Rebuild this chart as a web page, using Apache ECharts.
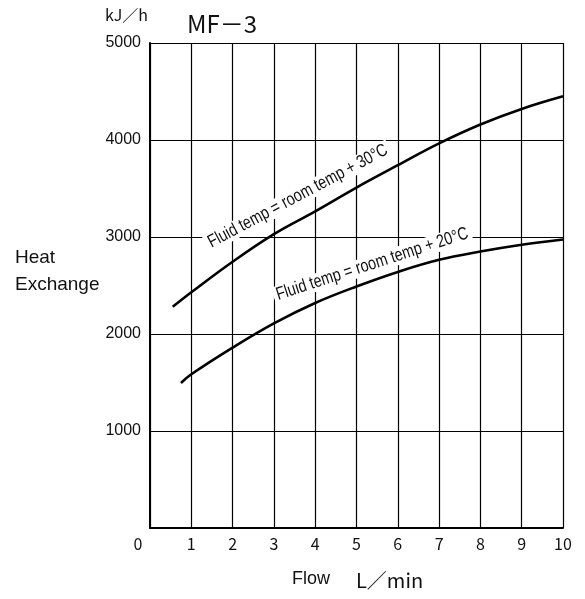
<!DOCTYPE html>
<html><head><meta charset="utf-8">
<script src="https://cdn.jsdelivr.net/npm/echarts@6/dist/echarts.min.js"></script>
<style>html,body{margin:0;padding:0;background:#fff}#c{width:585px;height:599px}</style>
</head><body><div id="c"></div>
<script>
// ---- data ----
const flow30 = [0.55, 1, 2, 3, 4, 5, 6, 7, 8, 9, 10];
const heat30 = [2280, 2430, 2745, 3030, 3265, 3510, 3740, 3965, 4160, 4320, 4450];
const flow20 = [0.75, 1, 2, 3, 4, 5, 6, 7, 8, 9, 10];
const heat20 = [1495, 1585, 1860, 2110, 2320, 2490, 2640, 2765, 2850, 2920, 2975];
const xTickLabels = ['0','1','2','3','4','5','6','7','8','9','10'];
const yTickLabels = ['', '1000', '2000', '3000', '4000', '5000'];
const curveNames = ['Fluid temp = room temp + 30°C', 'Fluid temp = room temp + 20°C'];
// label anchors in data coordinates [flow, heat, angleDeg]
const labelAnchors = [[3.58, 3420, 28], [5.38, 2720, 18]];

const chart = echarts.init(document.getElementById('c'), null, {renderer: 'canvas'});
const pair = (xs, ys) => xs.map((x, i) => [x, ys[i]]);
const arial = '"Liberation Sans", Arial, sans-serif';
const gothic = '"Noto Sans CJK JP", sans-serif';

const option = {
  animation: false,
  backgroundColor: '#fff',
  grid: {left: 150, right: 22, top: 43, bottom: 71, containLabel: false},
  xAxis: {
    type: 'value', min: 0, max: 10, interval: 1,
    axisLine: {show: true, onZero: false, lineStyle: {color: '#000', width: 2}},
    axisTick: {show: false},
    splitLine: {show: true, lineStyle: {color: '#000', width: 1.2}},
    axisLabel: {
      color: '#111', fontSize: 16, fontFamily: gothic, margin: 8,
      formatter: v => { const t = xTickLabels[Math.round(v)]; return v === 0 ? '{z|' + t + '}' : t; },
      rich: {z: {fontSize: 16, fontFamily: gothic, color: '#111', padding: [0, 24, 0, 0]}}
    }
  },
  yAxis: {
    type: 'value', min: 0, max: 5000, interval: 1000,
    axisLine: {show: true, lineStyle: {color: '#000', width: 2}},
    axisTick: {show: false},
    splitLine: {show: true, lineStyle: {color: '#000', width: 1.2}},
    axisLabel: {
      color: '#111', fontSize: 16, fontFamily: arial, margin: 9,
      formatter: v => yTickLabels[Math.round(v / 1000)]
    }
  },
  series: [
    {type: 'line', name: curveNames[0], data: pair(flow30, heat30), smooth: 0.4, showSymbol: false, z: 3,
     lineStyle: {color: '#000', width: 2.6}},
    {type: 'line', name: curveNames[1], data: pair(flow20, heat20), smooth: 0.4, showSymbol: false, z: 3,
     lineStyle: {color: '#000', width: 2.6}}
  ]
};
chart.setOption(option);

const graphics = [
  {type: 'text', x: 148, y: 15, style: {text: 'kJ／h', font: '16px ' + gothic, fill: '#111', align: 'right', verticalAlign: 'middle'}},
  {type: 'text', x: 187, y: 24, style: {text: 'MF－3', font: '24px ' + gothic, fill: '#111', align: 'left', verticalAlign: 'middle'}},
  {type: 'text', x: 15, y: 258, style: {text: 'Heat', font: '19px ' + arial, fill: '#111', align: 'left', verticalAlign: 'middle'}},
  {type: 'text', x: 15, y: 285, style: {text: 'Exchange', font: '19px ' + arial, fill: '#111', align: 'left', verticalAlign: 'middle'}},
  {type: 'text', x: 292, y: 579, style: {text: 'Flow', font: '18px ' + arial, fill: '#111', align: 'left', verticalAlign: 'middle'}},
  {type: 'text', x: 356, y: 580, style: {text: 'L／min', font: '20px ' + gothic, fill: '#111', align: 'left', verticalAlign: 'middle'}}
];
labelAnchors.forEach((a, i) => {
  const p = chart.convertToPixel({gridIndex: 0}, [a[0], a[1]]);
  graphics.push({type: 'group', x: p[0], y: p[1], rotation: a[2] * Math.PI / 180, z: 2,
    children: [{type: 'text', x: 0, y: 0, scaleX: 0.8, z: 2,
      style: {text: curveNames[i], font: '18px ' + arial, fill: '#111', align: 'center', verticalAlign: 'middle',
              backgroundColor: '#fff', padding: [0, 4]}}]});
});
chart.setOption({graphic: graphics});
</script></body></html>
